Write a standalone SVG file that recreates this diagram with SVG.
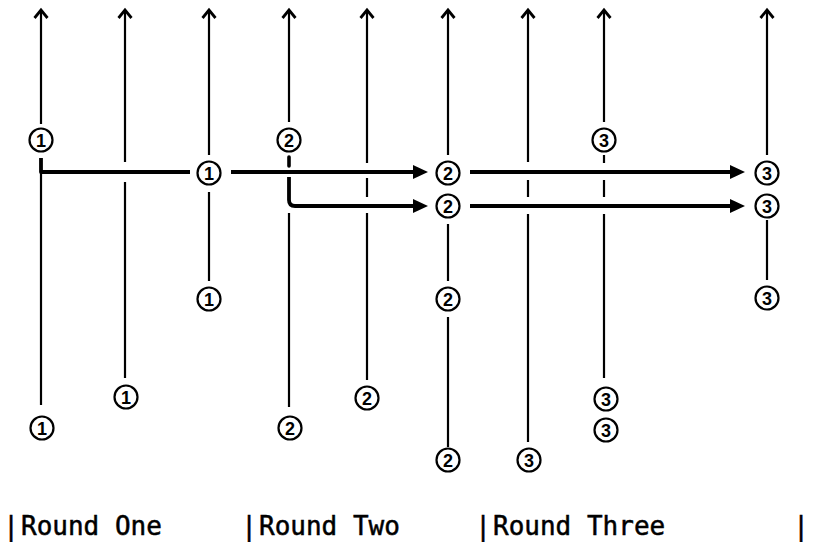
<svg xmlns="http://www.w3.org/2000/svg" width="814" height="542" viewBox="0 0 814 542">
  <style>
    .wire { fill: none; stroke: #000; stroke-width: 2.2; stroke-linecap: butt; }
    .tick { fill: none; stroke: #000; stroke-width: 3.6; stroke-linecap: round; }
    .flow { fill: none; stroke: #000; stroke-width: 3.8; stroke-linejoin: round; }
    .ring { fill: #fff; stroke: #000; stroke-width: 2.2; }
    .num { font-family: "Liberation Sans", "DejaVu Sans", sans-serif; font-size: 18px; font-weight: bold; text-anchor: middle; fill: #000; }
    .label { font-family: "DejaVu Sans Mono", "Liberation Mono", monospace; font-size: 26px; fill: #000; stroke: #000; stroke-width: 0.5; }
    .bar { text-anchor: middle; }
  </style>
  <defs>
    <!-- open chevron at the top of each timeline -->
    <marker id="up" markerUnits="userSpaceOnUse" markerWidth="20" markerHeight="20" refX="0" refY="0" orient="auto" overflow="visible">
      <path d="M-8,-6.5 L0,0 L-8,6.5" fill="none" stroke="#000" stroke-width="2.8" stroke-linejoin="miter"/>
    </marker>
    <!-- solid head for the message arrows -->
    <marker id="head" markerUnits="userSpaceOnUse" markerWidth="16" markerHeight="15" refX="1" refY="7" orient="auto" overflow="visible">
      <path d="M0,0 L15,7 L0,14 Z" fill="#000"/>
    </marker>
  </defs>
  <rect width="814" height="542" fill="#fff"/>

  <g id="connectors">
    <!-- timeline 1 -->
    <path class="wire" d="M41,124 V10" marker-end="url(#up)"/>
    <path class="wire" d="M41,172 V405"/>
    <!-- timeline 2 -->
    <path class="wire" d="M125,162 V10" marker-end="url(#up)"/>
    <path class="wire" d="M125,182 V378"/>
    <!-- timeline 3 -->
    <path class="wire" d="M209,155 V10" marker-end="url(#up)"/>
    <path class="wire" d="M209,192 V281"/>
    <!-- timeline 4 -->
    <path class="wire" d="M289,122 V10" marker-end="url(#up)"/>
    <path class="tick" d="M289,157 V166"/>
    <path class="wire" d="M289,213 V407"/>
    <!-- timeline 5 -->
    <path class="wire" d="M367,163 V10" marker-end="url(#up)"/>
    <path class="wire" d="M367,178 V197"/>
    <path class="wire" d="M367,213 V380"/>
    <!-- timeline 6 -->
    <path class="wire" d="M448,155 V10" marker-end="url(#up)"/>
    <path class="wire" d="M448,224 V281"/>
    <path class="wire" d="M448,317 V447"/>
    <!-- timeline 7 -->
    <path class="wire" d="M528,162 V10" marker-end="url(#up)"/>
    <path class="wire" d="M528,180 V197"/>
    <path class="wire" d="M528,214 V442"/>
    <!-- timeline 8 -->
    <path class="wire" d="M604,122 V10" marker-end="url(#up)"/>
    <path class="wire" d="M604,155 V163"/>
    <path class="wire" d="M604,180 V197"/>
    <path class="wire" d="M604,214 V378"/>
    <!-- timeline 9 -->
    <path class="wire" d="M767,155 V10" marker-end="url(#up)"/>
    <path class="wire" d="M767,220 V280"/>

    <!-- round one: 1 sends to 1 -->
    <path class="flow" d="M41,158 V172 H190"/>
    <!-- round one to two -->
    <path class="flow" d="M231,172 H414" marker-end="url(#head)"/>
    <path class="flow" d="M289,177 V200 Q289,206 295,206 H414" marker-end="url(#head)"/>
    <!-- round two to three -->
    <path class="flow" d="M470,172 H731" marker-end="url(#head)"/>
    <path class="flow" d="M470,206 H731" marker-end="url(#head)"/>
  </g>

  <g id="n1a"><circle class="ring" cx="41" cy="140" r="11.5"/><text class="num" x="41" y="146.5">1</text></g>
  <g id="n1b"><circle class="ring" cx="209" cy="173" r="11.5"/><text class="num" x="209" y="179.5">1</text></g>
  <g id="n1c"><circle class="ring" cx="209" cy="299" r="11.5"/><text class="num" x="209" y="305.5">1</text></g>
  <g id="n1d"><circle class="ring" cx="126" cy="397" r="11.5"/><text class="num" x="126" y="403.5">1</text></g>
  <g id="n1e"><circle class="ring" cx="42" cy="428" r="11.5"/><text class="num" x="42" y="434.5">1</text></g>

  <g id="n2a"><circle class="ring" cx="289" cy="140" r="11.5"/><text class="num" x="289" y="146.5">2</text></g>
  <g id="n2b"><circle class="ring" cx="448" cy="173" r="11.5"/><text class="num" x="448" y="179.5">2</text></g>
  <g id="n2c"><circle class="ring" cx="448" cy="206" r="11.5"/><text class="num" x="448" y="212.5">2</text></g>
  <g id="n2d"><circle class="ring" cx="448" cy="299" r="11.5"/><text class="num" x="448" y="305.5">2</text></g>
  <g id="n2e"><circle class="ring" cx="367" cy="398" r="11.5"/><text class="num" x="367" y="404.5">2</text></g>
  <g id="n2f"><circle class="ring" cx="290" cy="428" r="11.5"/><text class="num" x="290" y="434.5">2</text></g>
  <g id="n2g"><circle class="ring" cx="448" cy="460" r="11.5"/><text class="num" x="448" y="466.5">2</text></g>

  <g id="n3a"><circle class="ring" cx="604" cy="140" r="11.5"/><text class="num" x="604" y="146.5">3</text></g>
  <g id="n3b"><circle class="ring" cx="767" cy="173" r="11.5"/><text class="num" x="767" y="179.5">3</text></g>
  <g id="n3c"><circle class="ring" cx="767" cy="206" r="11.5"/><text class="num" x="767" y="212.5">3</text></g>
  <g id="n3d"><circle class="ring" cx="767" cy="298" r="11.5"/><text class="num" x="767" y="304.5">3</text></g>
  <g id="n3e"><circle class="ring" cx="606" cy="399" r="11.5"/><text class="num" x="606" y="405.5">3</text></g>
  <g id="n3f"><circle class="ring" cx="606" cy="430" r="11.5"/><text class="num" x="606" y="436.5">3</text></g>
  <g id="n3g"><circle class="ring" cx="529" cy="460" r="11.5"/><text class="num" x="529" y="466.5">3</text></g>

  <g id="labels">
    <text class="label bar" x="11" y="535">|</text>
    <text class="label" x="21" y="535">Round One</text>
    <text class="label bar" x="249" y="535">|</text>
    <text class="label" x="259" y="535">Round Two</text>
    <text class="label bar" x="483" y="535">|</text>
    <text class="label" x="493" y="535">Round Three</text>
    <text class="label bar" x="801" y="535">|</text>
  </g>
</svg>
